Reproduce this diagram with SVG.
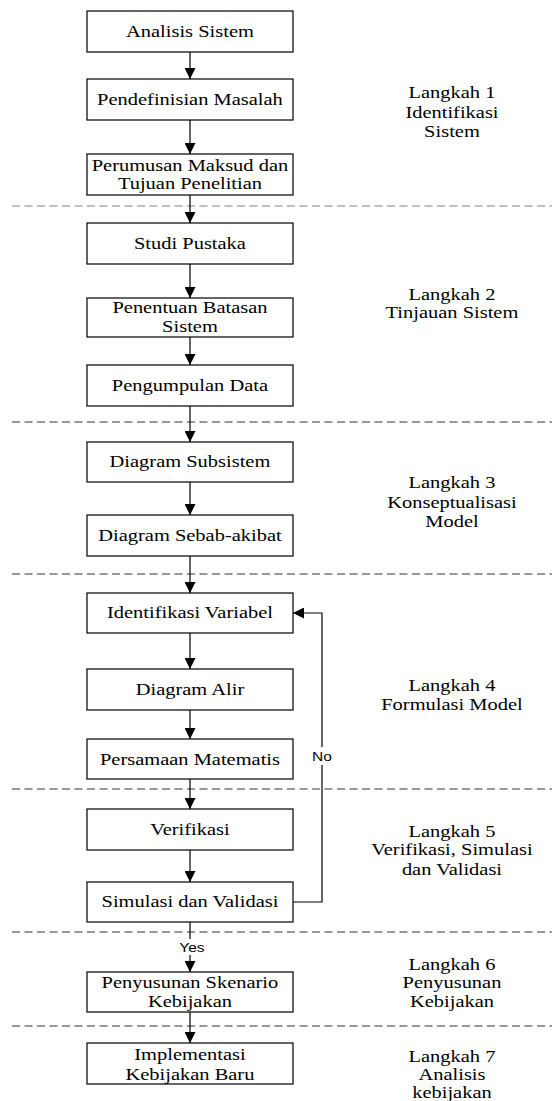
<svg xmlns="http://www.w3.org/2000/svg" width="552" height="1101" viewBox="0 0 552 1101">
  <style>
    .box { fill: #ffffff; stroke: #000000; stroke-width: 1.2; }
    .t { font-family: 'Liberation Serif', 'DejaVu Serif', serif; font-size: 16.5px; text-anchor: middle; fill: #000000; }
    .s { font-family: 'Liberation Sans', Arial, sans-serif; font-size: 12.5px; text-anchor: middle; fill: #000000; }
    .link { fill: none; stroke: #000000; stroke-width: 1.2; }
    .sep { stroke: #333333; stroke-width: 1; stroke-dasharray: 8 4.5; }
    .sep1 { stroke: #808080; }
  </style>
  <defs>
    <marker id="arrow" markerUnits="userSpaceOnUse" markerWidth="11" markerHeight="11" viewBox="0 0 10 10" refX="10" refY="5" orient="auto">
      <path d="M0,0 L10,5 L0,10 z" fill="#000000"/>
    </marker>
  </defs>
  <rect width="552" height="1101" fill="#ffffff"/>

  <!-- stage separators -->
  <g id="separators">
    <line class="sep sep1" x1="12" y1="206" x2="552" y2="206"/>
    <line class="sep" x1="12" y1="422" x2="552" y2="422"/>
    <line class="sep" x1="12" y1="574" x2="552" y2="574"/>
    <line class="sep" x1="12" y1="789" x2="552" y2="789"/>
    <line class="sep" x1="12" y1="932" x2="552" y2="932"/>
    <line class="sep" x1="12" y1="1026" x2="552" y2="1026"/>
  </g>

  <!-- connectors -->
  <g id="connectors">
    <line class="link" x1="190" y1="52" x2="190" y2="79" marker-end="url(#arrow)"/>
    <line class="link" x1="190" y1="120" x2="190" y2="154" marker-end="url(#arrow)"/>
    <line class="link" x1="190" y1="195" x2="190" y2="223" marker-end="url(#arrow)"/>
    <line class="link" x1="190" y1="264" x2="190" y2="298" marker-end="url(#arrow)"/>
    <line class="link" x1="190" y1="337" x2="190" y2="365" marker-end="url(#arrow)"/>
    <line class="link" x1="190" y1="406" x2="190" y2="442" marker-end="url(#arrow)"/>
    <line class="link" x1="190" y1="482" x2="190" y2="515" marker-end="url(#arrow)"/>
    <line class="link" x1="190" y1="556" x2="190" y2="593" marker-end="url(#arrow)"/>
    <line class="link" x1="190" y1="633" x2="190" y2="669" marker-end="url(#arrow)"/>
    <line class="link" x1="190" y1="710" x2="190" y2="739" marker-end="url(#arrow)"/>
    <line class="link" x1="190" y1="779" x2="190" y2="809" marker-end="url(#arrow)"/>
    <line class="link" x1="190" y1="850" x2="190" y2="882" marker-end="url(#arrow)"/>
    <line class="link" x1="190" y1="922" x2="190" y2="972" marker-end="url(#arrow)"/>
    <line class="link" x1="190" y1="1012" x2="190" y2="1043" marker-end="url(#arrow)"/>
    <!-- loop back from validation to variable identification -->
    <path class="link" d="M293,902 H322 V613 H293" marker-end="url(#arrow)"/>
    <rect x="311" y="747" width="22" height="18" fill="#ffffff"/>
    <text class="s" transform="scale(1.24 1)" x="259.7" y="761">No</text>
    <rect x="176" y="939" width="32" height="16" fill="#ffffff"/>
    <text class="s" transform="scale(1.24 1)" x="154.8" y="952">Yes</text>
  </g>

  <!-- process nodes -->
  <g id="n1"><rect class="box" x="87" y="11" width="206" height="41"/>
    <text class="t" transform="scale(1.24 1)" x="153.2" y="37">Analisis Sistem</text></g>
  <g id="n2"><rect class="box" x="87" y="79" width="206" height="41"/>
    <text class="t" transform="scale(1.24 1)" x="153.2" y="105">Pendefinisian Masalah</text></g>
  <g id="n3"><rect class="box" x="87" y="154" width="206" height="41"/>
    <text class="t" transform="scale(1.24 1)" x="153.2" y="171">Perumusan Maksud dan</text>
    <text class="t" transform="scale(1.24 1)" x="153.2" y="189">Tujuan Penelitian</text></g>
  <g id="n4"><rect class="box" x="87" y="223" width="206" height="41"/>
    <text class="t" transform="scale(1.24 1)" x="153.2" y="249">Studi Pustaka</text></g>
  <g id="n5"><rect class="box" x="87" y="298" width="206" height="39"/>
    <text class="t" transform="scale(1.24 1)" x="153.2" y="313">Penentuan Batasan</text>
    <text class="t" transform="scale(1.24 1)" x="153.2" y="332">Sistem</text></g>
  <g id="n6"><rect class="box" x="87" y="365" width="206" height="41"/>
    <text class="t" transform="scale(1.24 1)" x="153.2" y="391">Pengumpulan Data</text></g>
  <g id="n7"><rect class="box" x="87" y="442" width="206" height="40"/>
    <text class="t" transform="scale(1.24 1)" x="153.2" y="467.5">Diagram Subsistem</text></g>
  <g id="n8"><rect class="box" x="87" y="515" width="206" height="41"/>
    <text class="t" transform="scale(1.24 1)" x="153.2" y="541">Diagram Sebab-akibat</text></g>
  <g id="n9"><rect class="box" x="87" y="593" width="206" height="40"/>
    <text class="t" transform="scale(1.24 1)" x="153.2" y="618.5">Identifikasi Variabel</text></g>
  <g id="n10"><rect class="box" x="87" y="669" width="206" height="41"/>
    <text class="t" transform="scale(1.24 1)" x="153.2" y="695">Diagram Alir</text></g>
  <g id="n11"><rect class="box" x="87" y="739" width="206" height="40"/>
    <text class="t" transform="scale(1.24 1)" x="153.2" y="764.5">Persamaan Matematis</text></g>
  <g id="n12"><rect class="box" x="87" y="809" width="206" height="41"/>
    <text class="t" transform="scale(1.24 1)" x="153.2" y="835">Verifikasi</text></g>
  <g id="n13"><rect class="box" x="87" y="882" width="206" height="40"/>
    <text class="t" transform="scale(1.24 1)" x="153.2" y="907.5">Simulasi dan Validasi</text></g>
  <g id="n14"><rect class="box" x="87" y="972" width="206" height="40"/>
    <text class="t" transform="scale(1.24 1)" x="153.2" y="988">Penyusunan Skenario</text>
    <text class="t" transform="scale(1.24 1)" x="153.2" y="1007">Kebijakan</text></g>
  <g id="n15"><rect class="box" x="87" y="1043" width="206" height="41"/>
    <text class="t" transform="scale(1.24 1)" x="153.2" y="1060">Implementasi</text>
    <text class="t" transform="scale(1.24 1)" x="153.2" y="1080">Kebijakan Baru</text></g>

  <!-- stage labels -->
  <g id="stage1">
    <text class="t" transform="scale(1.24 1)" x="364.5" y="98">Langkah 1</text>
    <text class="t" transform="scale(1.24 1)" x="364.5" y="118">Identifikasi</text>
    <text class="t" transform="scale(1.24 1)" x="364.5" y="137">Sistem</text>
  </g>
  <g id="stage2">
    <text class="t" transform="scale(1.24 1)" x="364.5" y="300">Langkah 2</text>
    <text class="t" transform="scale(1.24 1)" x="364.5" y="318">Tinjauan Sistem</text>
  </g>
  <g id="stage3">
    <text class="t" transform="scale(1.24 1)" x="364.5" y="488">Langkah 3</text>
    <text class="t" transform="scale(1.24 1)" x="364.5" y="508">Konseptualisasi</text>
    <text class="t" transform="scale(1.24 1)" x="364.5" y="527">Model</text>
  </g>
  <g id="stage4">
    <text class="t" transform="scale(1.24 1)" x="364.5" y="691">Langkah 4</text>
    <text class="t" transform="scale(1.24 1)" x="364.5" y="710">Formulasi Model</text>
  </g>
  <g id="stage5">
    <text class="t" transform="scale(1.24 1)" x="364.5" y="837">Langkah 5</text>
    <text class="t" transform="scale(1.24 1)" x="364.5" y="855">Verifikasi, Simulasi</text>
    <text class="t" transform="scale(1.24 1)" x="364.5" y="875">dan Validasi</text>
  </g>
  <g id="stage6">
    <text class="t" transform="scale(1.24 1)" x="364.5" y="970">Langkah 6</text>
    <text class="t" transform="scale(1.24 1)" x="364.5" y="988">Penyusunan</text>
    <text class="t" transform="scale(1.24 1)" x="364.5" y="1007">Kebijakan</text>
  </g>
  <g id="stage7">
    <text class="t" transform="scale(1.24 1)" x="364.5" y="1062">Langkah 7</text>
    <text class="t" transform="scale(1.24 1)" x="364.5" y="1080">Analisis</text>
    <text class="t" transform="scale(1.24 1)" x="364.5" y="1098">kebijakan</text>
  </g>
</svg>
